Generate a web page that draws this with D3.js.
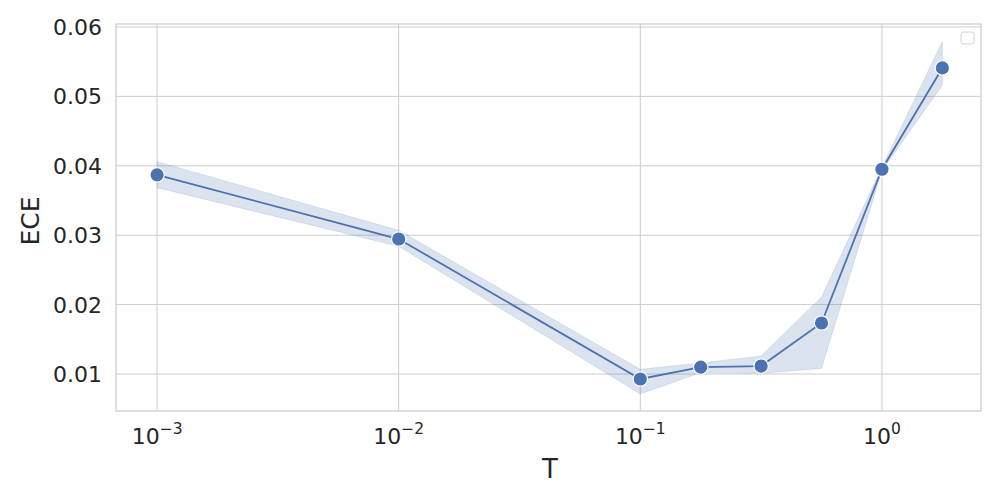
<!DOCTYPE html>
<html><head><meta charset="utf-8">
<script src="https://cdn.jsdelivr.net/npm/d3@7"></script>
<style>body{margin:0;background:#fff}svg{display:block}text{font-family:"DejaVu Sans",sans-serif;fill:#262626}</style>
</head><body><svg id="c" width="1000" height="500"></svg>
<script>
const T = [0.001, 0.01, 0.1, 0.1778, 0.3162, 0.5623, 1.0, 1.7783];
const ece = [0.0387, 0.02945, 0.00928, 0.0110, 0.01115, 0.01735, 0.0395, 0.0541];
const eceUpper = [0.0406, 0.0307, 0.01067, 0.0116, 0.0126, 0.0211, 0.0398, 0.0579];
const eceLower = [0.03685, 0.0284, 0.00712, 0.0102, 0.0101, 0.0108, 0.0393, 0.0516];
const xTicks = [-3, -2, -1, 0];
const yTicks = [0.01, 0.02, 0.03, 0.04, 0.05, 0.06];

const svg = d3.select("#c");
const L = 116, R = 981, Tp = 24, B = 411;
const x = d3.scaleLog().domain([Math.pow(10, -3.17), Math.pow(10, 0.41)]).range([L, R]);
const y = d3.scaleLinear().domain([0.00467, 0.06043]).range([B, Tp]);
const data = T.map((t, i) => ({t, v: ece[i], hi: eceUpper[i], lo: eceLower[i]}));

// grid
svg.append("g").selectAll("line").data(xTicks).join("line")
  .attr("x1", d => x(Math.pow(10, d))).attr("x2", d => x(Math.pow(10, d)))
  .attr("y1", Tp).attr("y2", B).attr("stroke", "#cccccc").attr("stroke-width", 1);
svg.append("g").selectAll("line").data(yTicks).join("line")
  .attr("x1", L).attr("x2", R).attr("y1", d => y(d)).attr("y2", d => y(d))
  .attr("stroke", "#cccccc").attr("stroke-width", 1);

// band
svg.append("path").datum(data)
  .attr("d", d3.area().x(d => x(d.t)).y0(d => y(d.lo)).y1(d => y(d.hi)))
  .attr("fill", "#4c72b0").attr("fill-opacity", 0.2).attr("stroke", "#4c72b0").attr("stroke-opacity", 0.15);
// line
svg.append("path").datum(data)
  .attr("d", d3.line().x(d => x(d.t)).y(d => y(d.v)))
  .attr("fill", "none").attr("stroke", "#4c72b0").attr("stroke-width", 1.8);
// markers
svg.append("g").selectAll("circle").data(data).join("circle")
  .attr("cx", d => x(d.t)).attr("cy", d => y(d.v)).attr("r", 7.2)
  .attr("fill", "#4c72b0").attr("stroke", "#fff").attr("stroke-width", 1.2);

// spines
svg.append("rect").attr("x", L).attr("y", Tp).attr("width", R - L).attr("height", B - Tp)
  .attr("fill", "none").attr("stroke", "#cccccc").attr("stroke-width", 1.25);

// y tick labels
svg.append("g").selectAll("text").data(yTicks).join("text")
  .attr("x", 102).attr("y", d => y(d)).attr("dy", "0.36em").attr("text-anchor", "end")
  .attr("font-size", 22).text(d => d.toFixed(2));

// x tick labels
const xt = svg.append("g").selectAll("text").data(xTicks).join("text")
  .attr("x", d => x(Math.pow(10, d))).attr("y", 444).attr("text-anchor", "middle").attr("font-size", 22);
xt.append("tspan").text("10");
xt.append("tspan").attr("dy", -10).attr("font-size", 15.5).text(d => d < 0 ? "\u2212" + (-d) : String(d));

// axis titles
svg.append("text").attr("x", 550).attr("y", 478).attr("text-anchor", "middle").attr("font-size", 26).text("T");
svg.append("text").attr("transform", "translate(39,221) rotate(-90)").attr("text-anchor", "middle").attr("font-size", 25).text("ECE");

// empty legend box
svg.append("rect").attr("x", 961).attr("y", 32).attr("width", 13).attr("height", 12).attr("rx", 2.5)
  .attr("fill", "#fff").attr("stroke", "#d0d0d0").attr("stroke-width", 1);
</script></body></html>
